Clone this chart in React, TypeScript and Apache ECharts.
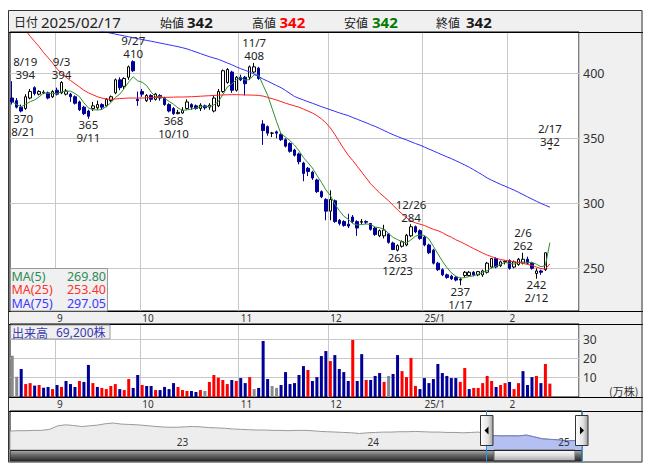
import React, { useEffect, useRef } from 'react';
import * as echarts from 'echarts';

const FONT = "'Noto Sans', 'Noto Sans CJK JP', sans-serif";
const CJK = "'Noto Sans CJK JP', 'Noto Sans', sans-serif";

const HEADER_DATE = '2025/02/17';

const dates = [
  '8/19','8/20','8/21','8/22','8/23','8/26','8/27','8/28','8/29','8/30',
  '9/2','9/3','9/4','9/5','9/6','9/9','9/10','9/11','9/12','9/13',
  '9/17','9/18','9/19','9/20','9/24','9/25','9/26','9/27','9/30','10/1',
  '10/2','10/3','10/4','10/7','10/8','10/9','10/10','10/11','10/15','10/16',
  '10/17','10/18','10/21','10/22','10/23','10/24','10/25','10/28','10/29','10/30',
  '10/31','11/1','11/5','11/6','11/7','11/8','11/11','11/12','11/13','11/14',
  '11/15','11/18','11/19','11/20','11/21','11/22','11/25','11/26','11/27','11/28',
  '11/29','12/2','12/3','12/4','12/5','12/6','12/9','12/10','12/11','12/12',
  '12/13','12/16','12/17','12/18','12/19','12/20','12/23','12/24','12/25','12/26',
  '12/27','12/30','1/6','1/7','1/8','1/9','1/10','1/14','1/15','1/16',
  '1/17','1/20','1/21','1/22','1/23','1/24','1/27','1/28','1/29','1/30',
  '1/31','2/3','2/4','2/5','2/6','2/7','2/10','2/12','2/13','2/14',
  '2/17',
];

const opens = [
  381, 379, 374, 373, 381, 389, 384, 385, 385, 382,
  387, 385, 384, 384, 382, 378, 374, 371, 373, 373.5,
  376, 375, 379, 385, 395, 390, 397, 409, 380, 386,
  379, 383, 380, 383, 381, 376, 373, 369, 369.5, 373,
  376, 375, 373, 375, 374, 371, 375, 386, 393, 401,
  387, 397, 397, 397, 401, 404, 361, 359, 354, 355,
  353, 349, 346, 341, 338, 331, 327, 324, 318, 309,
  303, 294, 302, 287, 286, 284, 289.5, 286, 285.5, 286,
  284.5, 281, 275, 275, 276.5, 269.5, 264, 267, 268, 275,
  282, 279, 274, 268, 264, 254, 249, 245, 244, 243,
  241, 244.5, 244.5, 247, 245, 245, 247, 251, 257.5, 252,
  255, 256, 251, 253, 254, 257, 254, 246, 248, 249,
  342,
];
const closes = [
  378, 374, 371, 382, 386, 384.5, 386, 385.5, 381, 386,
  384, 393, 386.5, 382, 377, 372, 369, 367, 375, 376,
  374, 380, 382, 395, 389, 396, 405, 402, 379, 384,
  383, 380, 384, 381, 376, 371, 369, 370, 371.5, 378,
  374, 373, 375.5, 373.5, 375.5, 381, 386, 402, 403, 387,
  397, 395, 392, 405, 405, 396, 356, 354, 354, 354,
  349, 344, 340, 337, 332, 323, 324.5, 319.5, 309, 305,
  294, 303, 286, 284.5, 283, 282.5, 286, 281, 286, 285.5,
  280, 276, 279, 279.5, 270, 264.5, 267.5, 270.5, 275.5, 282,
  278, 273, 268, 262, 254, 249, 245, 243, 242, 241,
  241.5, 247, 247, 245, 247.5, 248, 254, 257.5, 251, 255,
  255.5, 250, 255, 257, 257, 254, 250, 248, 247, 262,
  342,
];
const lows = [
  376, 373, 370, 372, 380, 383, 383, 384, 380, 381,
  383, 384, 383, 378, 376, 371, 368, 365, 371, 372,
  372, 374, 378, 384, 387, 388, 395, 401, 375, 382,
  378, 378, 379, 379, 375, 370, 368, 368.5, 369, 372,
  372, 372, 371, 372, 372, 370, 374, 385, 392, 385,
  386, 394, 383, 395, 400, 395, 345, 352, 351, 350,
  348, 343, 339, 336, 330, 317, 321, 318, 308, 304,
  287, 287, 285, 283, 282, 281, 285, 275, 284, 284,
  279, 275, 274, 273, 269, 264, 263, 266, 267, 274,
  277, 272, 267, 261, 253, 248, 244, 242, 241, 240,
  237, 243, 244, 244, 244, 243.5, 246, 250, 250, 251,
  253, 249, 250, 252, 253, 253, 249, 242, 245, 248,
  342,
];
const highs = [
  394, 381, 376, 384, 388, 390, 387, 387, 386, 387,
  389, 394, 388, 385, 383, 379, 375, 372, 378, 379,
  377, 381, 383, 396, 397, 397, 406, 410, 386, 388,
  384, 384, 385, 384, 382, 377, 374, 372, 374, 380,
  377, 376, 377, 376, 377, 383, 388, 403, 404, 402,
  398, 399, 398, 406, 408, 405, 364, 360, 355, 356,
  354, 350, 347, 342, 339, 332, 328, 325, 319, 310,
  304, 310, 303, 288, 287, 292, 291, 287, 288, 287,
  285, 282, 280, 283.5, 277, 270.5, 268.5, 271.5, 276.5, 284,
  283, 280, 275, 269, 265, 255, 250, 246, 245, 244,
  243, 248, 248, 248, 248, 249, 255, 258, 258.5, 256,
  256, 257, 256, 258, 262, 259, 255, 250, 249, 262,
  342,
];

// 出来高 (万株)
const volumes = [
  21.4, 10.5, 14.5, 6.7, 7.2, 5.9, 6.2, 4.8, 5.2, 4.1,
  6.2, 5.2, 8.3, 6.7, 5.2, 8.3, 7.8, 16.6, 7.2, 5.2,
  4.7, 4.1, 5.7, 6.7, 4.1, 3.6, 9.3, 4.7, 11.4, 6.2,
  5.7, 5.7, 3.6, 3.6, 5.2, 4.1, 7.2, 5.2, 3.6, 3.1,
  3.1, 2.6, 3.6, 3.1, 7.8, 11.4, 10.0, 8.8, 6.7, 8.8,
  8.3, 9.8, 7.2, 10.3, 4.1, 4.7, 29.0, 9.3, 5.7, 4.7,
  6.2, 12.9, 6.7, 7.2, 11.4, 16.0, 14.0, 8.3, 10.3, 21.2,
  23.8, 18.6, 21.7, 14.5, 12.9, 8.3, 29.5, 8.3, 22.2, 8.8,
  8.8, 10.9, 12.4, 7.8, 10.9, 11.9, 21.7, 13.4, 10.3, 20.2,
  5.7, 4.1, 9.8, 7.2, 9.3, 17.1, 12.4, 10.9, 9.8, 9.8,
  7.8, 15.0, 4.1, 4.7, 4.7, 7.2, 10.9, 8.3, 5.2, 6.2,
  7.2, 7.8, 4.1, 7.2, 13.4, 6.2, 10.3, 10.9, 7.2, 17.1,
  6.92,
];
// r = up, b = down, g = unchanged
const volumeDirs = (
  'ggbrrbrbbr' + 'brbbbrbbrb' + 'rrrrbrrbbr' + 'bbrbbbbrrr' +
  'bbrgrrrrrb' + 'rbbrgbbbgg' + 'bbbbbbrbbb' + 'brbbbbrbbr' +
  'bbbrgbbrrr' + 'rbbbbbbbbb' + 'rrbrrrrrbr' + 'rbrrbbbrbr' + 'r'
).split('');

const ma25 = [
  445, 441, 437, 433, 428.5, 424.5, 420.5, 416, 412, 408,
  403.5, 400, 397, 394.5, 392, 389.5, 387, 385, 383.5, 382,
  381, 380.3, 380, 380.3, 380.6, 380.8, 381, 381, 381, 381,
  381.2, 381.3, 381.4, 381.5, 381.5, 381.6, 381.7, 381.8, 381.8, 381.9,
  382, 382.2, 382.4, 382.6, 382.8, 383, 383.2, 383.4, 383.5, 383.6,
  383.6, 383.5, 383.4, 383.3, 383.2, 383, 382.5, 381.5, 380.5, 379.5,
  378.3, 377, 376, 375, 374, 372.5, 371, 369.5, 367.5, 365,
  362, 358, 353, 347.5, 342, 337, 333, 328.5, 324, 319.5,
  315, 311.5, 308, 305, 302, 298.5, 295, 292, 289, 286.5,
  285, 284, 283, 281.5, 280, 279, 277.5, 275.5, 274, 272,
  270.5, 268.8, 267, 265.2, 263.5, 261.8, 260.2, 259, 257.8, 256.8,
  256.2, 255.6, 255, 254.6, 253.9, 253, 252.3, 251, 249.8, 249.5,
  253.4,
];
const ma75 = [
  '-', '-', '-', '-', '-', '-', '-', '-', '-', '-',
  '-', '-', '-', '-', '-', 436, 435.2, 434.5, 433.8, 433,
  432.3, 431.6, 430.9, 430.2, 429.5, 428.8, 428.1, 427.4, 426.7, 426,
  425.3, 424.7, 424, 423.3, 422.6, 421.9, 421.2, 420.5, 419.7, 418.8,
  417.6, 416.4, 415.2, 414, 412.8, 411.8, 410.8, 409.4, 408, 406.6,
  405, 403.6, 402.3, 401, 399.4, 397.6, 395.6, 394, 392.3, 390.6,
  389, 386.8, 384.5, 382.2, 380.8, 379.5, 378.2, 377, 375.7, 374.4,
  373.2, 372, 370.8, 369.6, 368.5, 367.5, 366, 364.7, 363.3, 362,
  360.5, 359.2, 357.6, 356, 354.4, 352.8, 351.4, 350, 348.8, 347.4,
  346, 344.8, 343.3, 341.8, 340.3, 338.8, 337.3, 335.8, 334.4, 332.8,
  331.2, 329.5, 327.8, 325.8, 323.8, 321.8, 319.5, 317.8, 316.2, 314.6,
  313.2, 311.7, 310.2, 308.5, 306.8, 305, 303.3, 301.6, 300, 298.5,
  297.05,
];

const monthStarts = ['9/2', '10/1', '11/1', '12/2', '1/6', '2/3'];
const monthLabels = ['9', '10', '11', '12', '25/1', '2'];

const annotDates = ['8/19', '8/21', '9/3', '9/11', '9/27', '10/10', '11/7', '12/23', '12/26', '1/17', '2/6', '2/12', '2/17'];
const annotSides = ['high', 'low', 'high', 'low', 'high', 'low', 'high', 'low', 'high', 'low', 'high', 'low', 'high'];

// navigator (long-term price line, semi-monthly)
const navValues = [
  505, 515, 515, 524, 524, 552, 645, 672, 654, 626,
  645, 663, 700, 719, 691, 682, 672, 654, 635, 617,
  607, 607, 617, 626, 617, 598, 589, 580, 561, 552,
  542, 533, 533, 524, 524, 515, 524, 524, 515, 496,
  487, 478, 468, 459, 440, 459, 468, 478, 478, 487,
  487, 496, 487, 478, 478, 468, 468, 459, 468, 478,
  385, 384, 376, 380, 375, 398, 350, 300, 284, 272,
  243, 252, 257,
];
const navYearStarts = ['2023-01-01', '2024-01-01', '2025-01-01'];
const navSelectStart = '2024-08-15';

const navDates: string[] = [];
for (let y = 2022; y <= 2025; y++) {
  for (let m = 1; m <= 12; m++) {
    for (const d of ['01', '15']) {
      const s = `${y}-${String(m).padStart(2, '0')}-${d}`;
      if (s >= '2022-02-15' && s <= '2025-02-15') navDates.push(s);
    }
  }
}

const PAD = 6;
const cats = [...dates, ...Array.from({ length: PAD }, (_, k) => `#${k}`)];

function buildOption() {
  const n = dates.length;
  const ma5 = closes.map((_, i) => {
    const s = closes.slice(Math.max(0, i - 4), i + 1);
    return +(s.reduce((a, b) => a + b, 0) / s.length).toFixed(2);
  });
  const last = n - 1;
  const volColor: Record<string, string> = { r: '#ff0000', b: '#000099', g: '#8a8a8a' };

  const isMonthStart = (_i: number, v: string) => monthStarts.includes(v);
  const monthFmt = (v: string) => {
    const k = monthStarts.indexOf(v);
    return k >= 0 ? monthLabels[k] : '';
  };

  const markData = annotDates.map((d, k) => {
    const i = dates.indexOf(d);
    const high = annotSides[k] === 'high';
    const v = high ? highs[i] : lows[i];
    const off = i === 0 ? [13, 0] : i === 2 ? [2, 0] : [0, 0];
    return {
      coord: [d, v],
      label: {
        position: high ? 'top' : 'bottom',
        formatter: high ? `${d}\n${v}` : `${v}\n${d}`,
        offset: [off[0], high ? 0 : -1],
      },
    };
  });

  const selK = navDates.indexOf(navSelectStart);

  const gridBase = { show: true, backgroundColor: '#ffffff', borderColor: '#000000', borderWidth: 1, containLabel: false, outerBoundsMode: 'none' };

  const txt = (x: number, y: number, text: string, o: any = {}) => ({
    type: 'text', x, y, z: 100, silent: true,
    style: {
      text, fill: o.fill || '#222', fontSize: o.size || 12, fontFamily: o.font || FONT,
      fontWeight: o.weight || 'normal', textAlign: o.align || 'left', textVerticalAlign: 'middle',
      lineHeight: o.lh || undefined,
    },
  });
  const hline = (y: number) => ({ type: 'line', z: 90, silent: true, shape: { x1: 0, y1: y, x2: 635, y2: y }, style: { stroke: '#000', lineWidth: 1 } });

  const darkGrad = new echarts.graphic.LinearGradient(0, 0, 0, 1, [
    { offset: 0, color: '#b4b4b4' }, { offset: 0.45, color: '#6a6a6a' }, { offset: 1, color: '#2a2a2a' },
  ]);
  const lightGrad = new echarts.graphic.LinearGradient(0, 0, 0, 1, [
    { offset: 0, color: '#ffffff' }, { offset: 0.5, color: '#dcdcdc' }, { offset: 1, color: '#a8a8a8' },
  ]);
  const handleGrad = new echarts.graphic.LinearGradient(0, 0, 1, 0, [
    { offset: 0, color: '#ffffff' }, { offset: 0.6, color: '#e2e2e2' }, { offset: 1, color: '#a0a0a0' },
  ]);

  const fmt0 = (v: number) => String(v);
  const volText = Math.round(volumes[last] * 10000).toLocaleString('en-US');
  const lg = { size: 12.5, lh: 12 };

  const graphics: any[] = [
    hline(22.5), hline(301.5), hline(314.5), hline(387.5), hline(401.5),
    // header
    txt(6, 11.5, '日付', { font: CJK, size: 12 }),
    txt(33, 11.5, HEADER_DATE, { size: 15 }),
    txt(152, 12, '始値', { font: CJK, size: 12 }),
    txt(179, 11.5, fmt0(opens[last]), { size: 15, weight: 'bold', fill: '#1a1a1a' }),
    txt(244, 12, '高値', { font: CJK, size: 12 }),
    txt(271.5, 11.5, fmt0(highs[last]), { size: 15, weight: 'bold', fill: '#ff0000' }),
    txt(336, 12, '安値', { font: CJK, size: 12 }),
    txt(364, 11.5, fmt0(lows[last]), { size: 15, weight: 'bold', fill: '#007a00' }),
    txt(428, 12, '終値', { font: CJK, size: 12 }),
    txt(458, 11.5, fmt0(closes[last]), { size: 15, weight: 'bold', fill: '#1a1a1a' }),
    // MA legend
    { type: 'rect', z: 95, silent: true, shape: { x: 2.5, y: 258.5, width: 97, height: 42.5 }, style: { fill: '#f0f0f0', stroke: '#999', lineWidth: 1 } },
    txt(3.5, 266, 'MA(5)', { ...lg, fill: '#2e8b57' }),
    txt(98, 266, ma5[last].toFixed(2), { ...lg, fill: '#2e8b57', align: 'right' }),
    txt(3.5, 279.5, 'MA(25)', { ...lg, fill: '#ff3030' }),
    txt(98, 279.5, (ma25[last] as number).toFixed(2), { ...lg, fill: '#ff3030', align: 'right' }),
    txt(3.5, 293, 'MA(75)', { ...lg, fill: '#3a3aff' }),
    txt(98, 293, (ma75[last] as number).toFixed(2), { ...lg, fill: '#3a3aff', align: 'right' }),
    // volume title
    { type: 'rect', z: 95, silent: true, shape: { x: 2.5, y: 315, width: 99.5, height: 14 }, style: { fill: '#f0f0f0', stroke: '#999', lineWidth: 1 } },
    txt(4, 322, '出来高', { font: CJK, size: 12, fill: '#3a3ab0', lh: 13 }),
    txt(48, 322, `${volText}株`, { size: 12, fill: '#3a3ab0', lh: 13 }),
    txt(601, 381, '(万株)', { font: CJK, size: 11, fill: '#333' }),
    // scrollbar
    { type: 'rect', z: 95, silent: true, shape: { x: 2, y: 440, width: 484, height: 11 }, style: { fill: darkGrad } },
    { type: 'rect', z: 95, silent: true, shape: { x: 486, y: 440, width: 81, height: 11 }, style: { fill: lightGrad, stroke: '#666', lineWidth: 1 } },
    { type: 'rect', z: 95, silent: true, shape: { x: 567, y: 440, width: 7, height: 11 }, style: { fill: darkGrad } },
    { type: 'rect', z: 96, silent: true, shape: { x: 2, y: 440.5, width: 572, height: 10.5 }, style: { fill: 'none', stroke: '#222', lineWidth: 1 } },
    // selection lines
    { type: 'line', z: 97, silent: true, shape: { x1: 478.5, y1: 401, x2: 478.5, y2: 451 }, style: { stroke: '#1e9be0', lineWidth: 1 } },
    { type: 'line', z: 97, silent: true, shape: { x1: 574, y1: 401, x2: 574, y2: 451 }, style: { stroke: '#1e9be0', lineWidth: 1 } },
    // handles
    { type: 'rect', z: 98, silent: true, shape: { x: 472.5, y: 405.5, width: 12.5, height: 30 }, style: { fill: handleGrad, stroke: '#333', lineWidth: 1 } },
    { type: 'polygon', z: 99, silent: true, shape: { points: [[480.5, 416.5], [480.5, 424.5], [476.5, 420.5]] }, style: { fill: '#000' } },
    { type: 'rect', z: 98, silent: true, shape: { x: 567.5, y: 405.5, width: 12.5, height: 30 }, style: { fill: handleGrad, stroke: '#333', lineWidth: 1 } },
    { type: 'polygon', z: 99, silent: true, shape: { points: [[572, 416.5], [572, 424.5], [576, 420.5]] }, style: { fill: '#000' } },
    // frame
    { type: 'rect', z: 100, silent: true, shape: { x: 0.5, y: 0.5, width: 633.5, height: 451.5 }, style: { fill: 'none', stroke: '#333', lineWidth: 1 } },
  ];

  const catXAxis = (gridIndex: number) => ({
    type: 'category', gridIndex, data: cats, boundaryGap: true,
    axisLine: { show: false }, axisTick: { show: false },
    axisLabel: { interval: isMonthStart, formatter: monthFmt, align: 'left', margin: 1.5, fontSize: 10, color: '#333', fontFamily: FONT },
    splitLine: { show: true, interval: isMonthStart, lineStyle: { color: '#c8c8c8', width: 1 } },
  });

  return {
    animation: false,
    backgroundColor: '#f0f0f0',
    textStyle: { fontFamily: FONT },
    grid: [
      { ...gridBase, left: 2, top: 22, width: 569, height: 279 },
      { ...gridBase, left: 2, top: 314, width: 569, height: 73 },
      { ...gridBase, left: 2, top: 401, width: 572, height: 39 },
    ],
    xAxis: [
      catXAxis(0),
      catXAxis(1),
      {
        type: 'category', gridIndex: 2, data: navDates, boundaryGap: false, z: 10,
        axisLine: { show: false }, axisTick: { show: false }, splitLine: { show: false },
        axisLabel: {
          inside: true, interval: (_i: number, v: string) => navYearStarts.includes(v),
          formatter: (v: string) => v.slice(2, 4), align: 'left', margin: 3, fontSize: 10, color: '#333', fontFamily: FONT,
        },
      },
    ],
    yAxis: [
      {
        type: 'value', gridIndex: 0, position: 'right', min: 217.2, max: 431.8, splitNumber: 4,
        axisLine: { show: false }, axisTick: { show: false },
        axisLabel: { formatter: (v: number) => (Math.abs(v % 50) < 1e-6 ? String(v) : ''), margin: 4, fontSize: 12.5, color: '#333', fontFamily: FONT },
        splitLine: { lineStyle: { color: '#c8c8c8', width: 1 } },
      },
      {
        type: 'value', gridIndex: 1, position: 'right', min: 0, max: 37.8, interval: 10,
        axisLine: { show: false }, axisTick: { show: false },
        axisLabel: { formatter: (v: number) => (v > 0 && v % 10 === 0 ? String(v) : ''), margin: 4, fontSize: 12, color: '#333', fontFamily: FONT },
        splitLine: { lineStyle: { color: '#c8c8c8', width: 1 } },
      },
      { type: 'value', gridIndex: 2, min: 0, max: 1040, show: false, splitLine: { show: false } },
    ],
    series: [
      {
        type: 'candlestick', xAxisIndex: 0, yAxisIndex: 0, z: 2, barWidth: 3,
        data: dates.map((_, i) => [opens[i], closes[i], lows[i], highs[i]]),
        itemStyle: { color: '#ffffff', color0: '#000099', borderColor: '#000000', borderColor0: '#000099', borderColorDoji: '#000000', borderWidth: 1 },
        markPoint: {
          silent: true, symbol: 'circle', symbolSize: 1,
          itemStyle: { color: 'rgba(0,0,0,0)' },
          label: { show: true, color: '#222', fontSize: 11.5, lineHeight: 13, distance: 0, fontFamily: FONT },
          data: markData,
        },
      },
      { type: 'line', xAxisIndex: 0, yAxisIndex: 0, z: 3, data: ma5, symbol: 'none', silent: true, lineStyle: { color: '#2f8f2f', width: 1 } },
      { type: 'line', xAxisIndex: 0, yAxisIndex: 0, z: 3, data: ma25, symbol: 'none', silent: true, lineStyle: { color: '#ff2020', width: 1 } },
      { type: 'line', xAxisIndex: 0, yAxisIndex: 0, z: 3, data: ma75, symbol: 'none', silent: true, lineStyle: { color: '#3030ff', width: 1 } },
      {
        type: 'bar', xAxisIndex: 1, yAxisIndex: 1, barWidth: 3, silent: true,
        data: volumes.map((v, i) => ({ value: v, itemStyle: { color: volColor[volumeDirs[i]] } })),
      },
      {
        type: 'line', xAxisIndex: 2, yAxisIndex: 2, z: 1, data: navValues, symbol: 'none', silent: true,
        lineStyle: { color: '#9a9a9a', width: 1 }, areaStyle: { color: '#e6e6e6', origin: 'start' },
      },
      {
        type: 'line', xAxisIndex: 2, yAxisIndex: 2, z: 1, symbol: 'none', silent: true,
        data: navValues.map((v, k) => (k >= selK ? v : '-')),
        lineStyle: { color: '#6f7fd0', width: 1 }, areaStyle: { color: '#b4c0f2', opacity: 1, origin: 'start' },
      },
    ],
    graphic: { elements: graphics },
  };
}

export default function App() {
  const ref = useRef<HTMLDivElement>(null);
  useEffect(() => {
    if (!ref.current) return;
    const chart = echarts.init(ref.current, null, { renderer: 'svg' });
    chart.setOption(buildOption() as any);
    return () => chart.dispose();
  }, []);
  return <div ref={ref} style={{ position: 'fixed', left: 8, top: 10, width: 635, height: 453 }} />;
}
